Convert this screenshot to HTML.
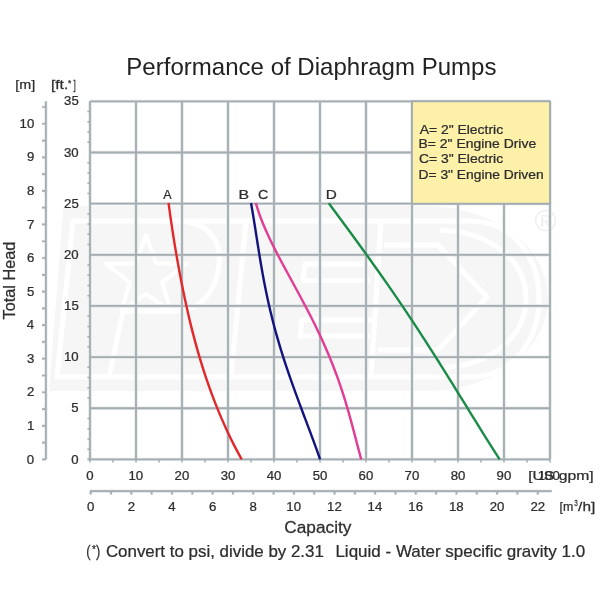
<!DOCTYPE html>
<html><head><meta charset="utf-8"><title>Performance of Diaphragm Pumps</title>
<style>
html,body{margin:0;padding:0;background:#fff;}
body{width:600px;height:600px;overflow:hidden;}
svg{display:block;}
text{font-family:'Liberation Sans', Arial, Helvetica, sans-serif;fill:#2e2e2e;stroke:#2e2e2e;stroke-width:0.25px;}
</style></head>
<body>
<svg width="600" height="600" viewBox="0 0 600 600">
<rect x="0" y="0" width="600" height="600" fill="#ffffff"/>
<g>
<path d="M63.5 206H425C495 206 548 248 548 298.5C548 349 495 391 425 391H49Z" fill="#f6f6f6"/>
<g fill="none" stroke="#ffffff" stroke-width="5" stroke-linejoin="round">
<path d="M73 221H470C512 221 539 256 539 298.5C539 341 512 377 470 377H57Z"/>
<path d="M246 221L231 377"/>
<path d="M180 221C211 223 222 244 219 265C216 292 200 311 176 311H123L109 377"/>
<path d="M381 221L371 377"/>
<path d="M381 264H305L303 280.5H370M377 320H302L300 336H370"/>
<path d="M384 245H438L487 297L438 350H378"/>
<path d="M440 230C493 232 526 262 526 298.5C526 335 493 366 440 368"/>
<path d="M146.0 235.0 L156.0 263.2 L185.9 264.0 L162.2 282.3 L170.7 311.0 L146.0 294.0 L121.3 311.0 L129.8 282.3 L106.1 264.0 L136.0 263.2Z" stroke-width="4"/>
</g>
<text x="534.5" y="231.3" font-size="30" style="fill:#efefef;stroke:none">&#174;</text>
</g>
<path d="M90.00 101.35V459.40M136.00 101.35V459.40M182.00 101.35V459.40M228.00 101.35V459.40M274.00 101.35V459.40M320.00 101.35V459.40M366.00 101.35V459.40M412.00 101.35V459.40M458.00 101.35V459.40M504.00 101.35V459.40M550.00 101.35V459.40M87.50 459.40H550.00M90.00 408.25H550.00M90.00 357.10H550.00M90.00 305.95H550.00M90.00 254.80H550.00M90.00 203.65H550.00M90.00 152.50H550.00M90.00 101.35H550.00" stroke="#e3e7e9" stroke-width="3.4" fill="none"/>
<path d="M90.00 101.35V459.40M136.00 101.35V459.40M182.00 101.35V459.40M228.00 101.35V459.40M274.00 101.35V459.40M320.00 101.35V459.40M366.00 101.35V459.40M412.00 101.35V459.40M458.00 101.35V459.40M504.00 101.35V459.40M550.00 101.35V459.40M87.50 459.40H550.00M90.00 408.25H550.00M90.00 357.10H550.00M90.00 305.95H550.00M90.00 254.80H550.00M90.00 203.65H550.00M90.00 152.50H550.00M90.00 101.35H550.00" stroke="#a3acb0" stroke-width="1.8" fill="none"/>
<rect x="412.00" y="101.35" width="138.00" height="102.30" fill="#fdf1aa" stroke="#a3acb0" stroke-width="1.8"/>
<path d="M87.40 449.17H90.00M87.40 438.94H90.00M87.40 428.71H90.00M87.40 418.48H90.00M87.40 398.02H90.00M87.40 387.79H90.00M87.40 377.56H90.00M87.40 367.33H90.00M87.40 346.87H90.00M87.40 336.64H90.00M87.40 326.41H90.00M87.40 316.18H90.00M87.40 295.72H90.00M87.40 285.49H90.00M87.40 275.26H90.00M87.40 265.03H90.00M87.40 244.57H90.00M87.40 234.34H90.00M87.40 224.11H90.00M87.40 213.88H90.00M87.40 193.42H90.00M87.40 183.19H90.00M87.40 172.96H90.00M87.40 162.73H90.00M87.40 142.27H90.00M87.40 132.04H90.00M87.40 121.81H90.00M87.40 111.58H90.00M90.00 459.40V462.40M113.00 459.40V462.40M136.00 459.40V462.40M159.00 459.40V462.40M182.00 459.40V462.40M205.00 459.40V462.40M228.00 459.40V462.40M251.00 459.40V462.40M274.00 459.40V462.40M297.00 459.40V462.40M320.00 459.40V462.40M343.00 459.40V462.40M366.00 459.40V462.40M389.00 459.40V462.40M412.00 459.40V462.40M435.00 459.40V462.40M458.00 459.40V462.40M481.00 459.40V462.40M504.00 459.40V462.40M527.00 459.40V462.40M550.00 459.40V462.40" stroke="#a3acb0" stroke-width="1.5" fill="none"/>
<path d="M45.90 101.35V459.40M42.10 459.40H45.90M42.10 442.62H45.90M42.10 425.84H45.90M42.10 409.06H45.90M42.10 392.27H45.90M42.10 375.49H45.90M42.10 358.71H45.90M42.10 341.93H45.90M42.10 325.15H45.90M42.10 308.37H45.90M42.10 291.59H45.90M42.10 274.80H45.90M42.10 258.02H45.90M42.10 241.24H45.90M42.10 224.46H45.90M42.10 207.68H45.90M42.10 190.90H45.90M42.10 174.11H45.90M42.10 157.33H45.90M42.10 140.55H45.90M42.10 123.77H45.90M42.10 106.99H45.90" stroke="#e3e7e9" stroke-width="3.2" fill="none"/>
<path d="M45.90 101.35V459.40M42.10 459.40H45.90M42.10 442.62H45.90M42.10 425.84H45.90M42.10 409.06H45.90M42.10 392.27H45.90M42.10 375.49H45.90M42.10 358.71H45.90M42.10 341.93H45.90M42.10 325.15H45.90M42.10 308.37H45.90M42.10 291.59H45.90M42.10 274.80H45.90M42.10 258.02H45.90M42.10 241.24H45.90M42.10 224.46H45.90M42.10 207.68H45.90M42.10 190.90H45.90M42.10 174.11H45.90M42.10 157.33H45.90M42.10 140.55H45.90M42.10 123.77H45.90M42.10 106.99H45.90" stroke="#a3acb0" stroke-width="1.7" fill="none"/>
<path d="M89.90 491.20H551.70M90.70 491.20V494.40M111.02 491.20V494.40M131.34 491.20V494.40M151.66 491.20V494.40M171.98 491.20V494.40M192.30 491.20V494.40M212.62 491.20V494.40M232.94 491.20V494.40M253.26 491.20V494.40M273.58 491.20V494.40M293.90 491.20V494.40M314.22 491.20V494.40M334.54 491.20V494.40M354.86 491.20V494.40M375.18 491.20V494.40M395.50 491.20V494.40M415.82 491.20V494.40M436.14 491.20V494.40M456.46 491.20V494.40M476.78 491.20V494.40M497.10 491.20V494.40M517.42 491.20V494.40M537.74 491.20V494.40" stroke="#e3e7e9" stroke-width="3.2" fill="none"/>
<path d="M89.90 491.20H551.70M90.70 491.20V494.40M111.02 491.20V494.40M131.34 491.20V494.40M151.66 491.20V494.40M171.98 491.20V494.40M192.30 491.20V494.40M212.62 491.20V494.40M232.94 491.20V494.40M253.26 491.20V494.40M273.58 491.20V494.40M293.90 491.20V494.40M314.22 491.20V494.40M334.54 491.20V494.40M354.86 491.20V494.40M375.18 491.20V494.40M395.50 491.20V494.40M415.82 491.20V494.40M436.14 491.20V494.40M456.46 491.20V494.40M476.78 491.20V494.40M497.10 491.20V494.40M517.42 491.20V494.40M537.74 491.20V494.40" stroke="#a3acb0" stroke-width="1.7" fill="none"/>
<path d="M168.51 202.80C168.82 205.05 169.74 211.80 170.38 216.31C171.03 220.81 171.69 225.31 172.38 229.81C173.07 234.31 173.77 238.81 174.50 243.32C175.23 247.82 175.99 252.32 176.77 256.82C177.54 261.32 178.35 265.82 179.18 270.33C180.01 274.83 180.87 279.33 181.76 283.83C182.65 288.33 183.57 292.84 184.52 297.34C185.48 301.84 186.46 306.34 187.49 310.84C188.51 315.34 189.57 319.85 190.68 324.35C191.79 328.85 192.93 333.35 194.13 337.85C195.32 342.35 196.56 346.86 197.85 351.36C199.14 355.86 200.48 360.36 201.88 364.86C203.28 369.36 204.73 373.87 206.25 378.37C207.77 382.87 209.34 387.37 210.99 391.87C212.64 396.38 214.35 400.88 216.14 405.38C217.94 409.88 219.80 414.38 221.74 418.88C223.69 423.39 225.72 427.89 227.84 432.39C229.95 436.89 232.15 441.39 234.46 445.89C236.76 450.40 240.46 457.15 241.66 459.40" stroke="#e2282a" stroke-width="2.4" fill="none" stroke-linecap="butt"/>
<path d="M251.05 203.00C251.43 205.25 252.60 212.00 253.33 216.49C254.07 220.99 254.77 225.49 255.48 229.99C256.19 234.49 256.87 238.99 257.58 243.48C258.30 247.98 259.00 252.48 259.75 256.98C260.49 261.48 261.25 265.98 262.05 270.47C262.85 274.97 263.67 279.47 264.55 283.97C265.43 288.47 266.34 292.96 267.31 297.46C268.28 301.96 269.29 306.46 270.36 310.96C271.43 315.46 272.55 319.95 273.73 324.45C274.90 328.95 276.13 333.45 277.42 337.95C278.70 342.45 280.04 346.94 281.43 351.44C282.82 355.94 284.27 360.44 285.75 364.94C287.24 369.44 288.78 373.93 290.35 378.43C291.92 382.93 293.53 387.43 295.17 391.93C296.80 396.42 298.48 400.92 300.16 405.42C301.83 409.92 303.54 414.42 305.24 418.92C306.93 423.41 308.65 427.91 310.33 432.41C312.01 436.91 313.69 441.41 315.32 445.91C316.95 450.40 319.31 457.15 320.11 459.40" stroke="#13137e" stroke-width="2.4" fill="none" stroke-linecap="butt"/>
<path d="M255.75 203.00C256.49 205.25 258.53 212.00 260.18 216.49C261.84 220.99 263.73 225.49 265.71 229.99C267.68 234.49 269.84 238.99 272.04 243.48C274.24 247.98 276.58 252.48 278.93 256.98C281.28 261.48 283.72 265.98 286.15 270.47C288.58 274.97 291.06 279.47 293.50 283.97C295.95 288.47 298.41 292.96 300.82 297.46C303.22 301.96 305.62 306.46 307.95 310.96C310.28 315.46 312.57 319.95 314.78 324.45C317.00 328.95 319.16 333.45 321.24 337.95C323.31 342.45 325.32 346.94 327.24 351.44C329.17 355.94 331.01 360.44 332.78 364.94C334.54 369.44 336.22 373.93 337.82 378.43C339.43 382.93 340.95 387.43 342.42 391.93C343.88 396.42 345.26 400.92 346.60 405.42C347.94 409.92 349.20 414.42 350.45 418.92C351.69 423.41 352.88 427.91 354.07 432.41C355.27 436.91 356.42 441.41 357.61 445.91C358.80 450.40 360.61 457.15 361.21 459.40" stroke="#e23c94" stroke-width="2.4" fill="none" stroke-linecap="butt"/>
<path d="M328.80 203.30C330.46 205.55 335.48 212.29 338.80 216.78C342.13 221.27 345.45 225.76 348.75 230.26C352.05 234.75 355.34 239.24 358.60 243.74C361.87 248.23 365.12 252.72 368.34 257.22C371.57 261.71 374.77 266.20 377.95 270.69C381.12 275.19 384.27 279.68 387.40 284.17C390.52 288.67 393.62 293.16 396.69 297.65C399.76 302.15 402.80 306.64 405.81 311.13C408.82 315.62 411.81 320.12 414.77 324.61C417.73 329.10 420.66 333.60 423.57 338.09C426.48 342.58 429.36 347.08 432.23 351.57C435.09 356.06 437.93 360.55 440.76 365.05C443.59 369.54 446.39 374.03 449.19 378.53C451.98 383.02 454.76 387.51 457.54 392.01C460.32 396.50 463.08 400.99 465.85 405.48C468.62 409.98 471.39 414.47 474.17 418.96C476.95 423.46 479.73 427.95 482.53 432.44C485.34 436.94 488.15 441.43 490.99 445.92C493.84 450.41 498.17 457.15 499.61 459.40" stroke="#1b8c48" stroke-width="2.4" fill="none" stroke-linecap="butt"/>
<text transform="translate(71.22 463.52) scale(1.1000 1)" font-size="12">0</text>
<text transform="translate(71.36 412.31) scale(1.1000 1)" font-size="12">5</text>
<text transform="translate(63.94 361.22) scale(1.1000 1)" font-size="12">10</text>
<text transform="translate(64.07 310.01) scale(1.1000 1)" font-size="12">15</text>
<text transform="translate(63.94 258.92) scale(1.1000 1)" font-size="12">20</text>
<text transform="translate(64.07 207.77) scale(1.1000 1)" font-size="12">25</text>
<text transform="translate(63.94 156.62) scale(1.1000 1)" font-size="12">30</text>
<text transform="translate(64.07 105.47) scale(1.1000 1)" font-size="12">35</text>
<text transform="translate(26.83 463.52) scale(1.1000 1)" font-size="12">0</text>
<text transform="translate(26.96 429.96) scale(1.1000 1)" font-size="12">1</text>
<text transform="translate(26.96 396.46) scale(1.1000 1)" font-size="12">2</text>
<text transform="translate(26.96 362.84) scale(1.1000 1)" font-size="12">3</text>
<text transform="translate(26.69 329.27) scale(1.1000 1)" font-size="12">4</text>
<text transform="translate(26.96 295.65) scale(1.1000 1)" font-size="12">5</text>
<text transform="translate(26.96 262.15) scale(1.1000 1)" font-size="12">6</text>
<text transform="translate(26.96 228.58) scale(1.1000 1)" font-size="12">7</text>
<text transform="translate(26.96 195.02) scale(1.1000 1)" font-size="12">8</text>
<text transform="translate(26.96 161.46) scale(1.1000 1)" font-size="12">9</text>
<text transform="translate(19.54 127.90) scale(1.1000 1)" font-size="12">10</text>
<text transform="translate(86.29 479.62) scale(1.1000 1)" font-size="12">0</text>
<text transform="translate(128.44 479.62) scale(1.1000 1)" font-size="12">10</text>
<text transform="translate(174.57 479.62) scale(1.1000 1)" font-size="12">20</text>
<text transform="translate(220.64 479.62) scale(1.1000 1)" font-size="12">30</text>
<text transform="translate(266.78 479.62) scale(1.1000 1)" font-size="12">40</text>
<text transform="translate(312.64 479.62) scale(1.1000 1)" font-size="12">50</text>
<text transform="translate(358.57 479.62) scale(1.1000 1)" font-size="12">60</text>
<text transform="translate(404.57 479.62) scale(1.1000 1)" font-size="12">70</text>
<text transform="translate(450.64 479.62) scale(1.1000 1)" font-size="12">80</text>
<text transform="translate(496.57 479.62) scale(1.1000 1)" font-size="12">90</text>
<text transform="translate(537.73 479.82) scale(1.1000 1)" font-size="12">100</text>
<text transform="translate(86.99 510.93) scale(1.1000 1)" font-size="12">0</text>
<text transform="translate(127.63 510.99) scale(1.1000 1)" font-size="12">2</text>
<text transform="translate(168.34 510.93) scale(1.1000 1)" font-size="12">4</text>
<text transform="translate(208.91 510.93) scale(1.1000 1)" font-size="12">6</text>
<text transform="translate(249.62 510.93) scale(1.1000 1)" font-size="12">8</text>
<text transform="translate(286.34 510.93) scale(1.1000 1)" font-size="12">10</text>
<text transform="translate(327.05 510.99) scale(1.1000 1)" font-size="12">12</text>
<text transform="translate(367.55 510.93) scale(1.1000 1)" font-size="12">14</text>
<text transform="translate(408.33 510.93) scale(1.1000 1)" font-size="12">16</text>
<text transform="translate(448.97 510.93) scale(1.1000 1)" font-size="12">18</text>
<text transform="translate(489.67 510.93) scale(1.1000 1)" font-size="12">20</text>
<text transform="translate(530.38 510.99) scale(1.1000 1)" font-size="12">22</text>
<text transform="translate(528.14 479.80) scale(1.2086 1)" font-size="13">[US gpm]</text>
<text transform="translate(559.46 510.60) scale(0.9569 1)" font-size="13">[m</text>
<text transform="translate(574.22 505.60) scale(0.7500 1)" font-size="8.5">3</text>
<text transform="translate(578.10 510.60) scale(1.1852 1)" font-size="13">/h]</text>
<text transform="translate(15.34 89.40) scale(1.1015 1)" font-size="13">[m]</text>
<text transform="translate(50.95 89.40) scale(1.1960 1)" font-size="13">[ft.</text>
<text x="67.9" y="86.3" font-size="8.5">*</text>
<text transform="translate(73.62 89.40) scale(0.6400 1)" font-size="13">]</text>
<text transform="translate(126.30 75.00) scale(1.0024 1)" font-size="24" style="fill:#222;stroke:none">Performance of Diaphragm Pumps</text>
<text transform="translate(163.20 199.00) scale(0.9623 1)" font-size="13">A</text>
<text transform="translate(238.43 199.00) scale(1.2218 1)" font-size="13">B</text>
<text transform="translate(258.12 199.00) scale(1.0909 1)" font-size="13">C</text>
<text transform="translate(325.87 199.00) scale(1.1803 1)" font-size="13">D</text>
<text transform="translate(419.70 133.60) scale(1.1602 1)" font-size="12">A= 2&quot; Electric</text>
<text transform="translate(418.54 148.30) scale(1.1609 1)" font-size="12">B= 2&quot; Engine Drive</text>
<text transform="translate(418.97 163.30) scale(1.1602 1)" font-size="12">C= 3&quot; Electric</text>
<text transform="translate(418.55 178.50) scale(1.1518 1)" font-size="12">D= 3&quot; Engine Driven</text>
<text transform="translate(14.8 319.48) rotate(-90) scale(1.0183 1)" font-size="16">Total Head</text>
<text transform="translate(284.28 532.60) scale(1.0462 1)" font-size="16.5">Capacity</text>
<text transform="translate(86.35 556.8) scale(0.8 1)" font-size="16">(</text>
<text x="92.0" y="552.9" font-size="10">*</text>
<text transform="translate(96.1 556.8) scale(0.8 1)" font-size="16">)</text>
<text transform="translate(105.88 556.60) scale(1.0571 1)" font-size="16">Convert to psi, divide by 2.31</text>
<text transform="translate(335.42 556.60) scale(1.0632 1)" font-size="16">Liquid - Water specific gravity 1.0</text>
</svg>
</body></html>
